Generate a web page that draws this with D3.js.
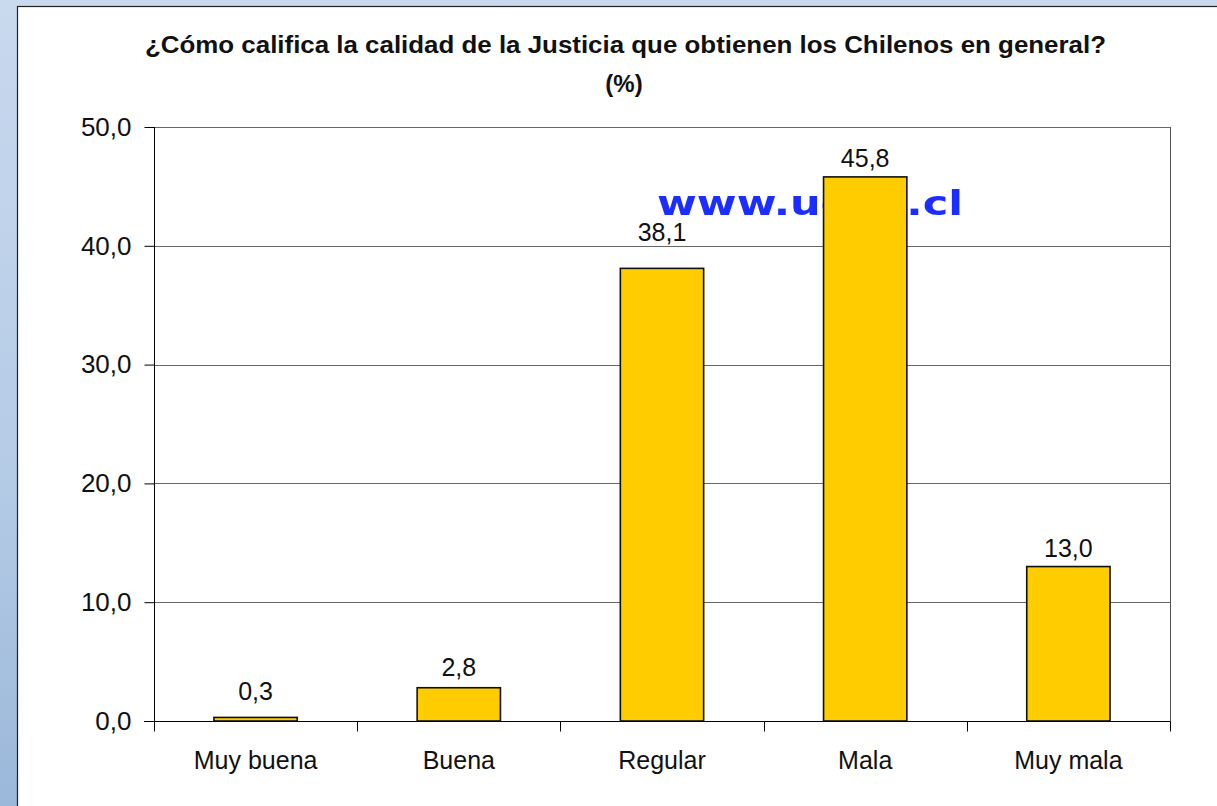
<!DOCTYPE html>
<html lang="es">
<head>
<meta charset="UTF-8">
<title>Calidad de la Justicia</title>
<script src="https://d3js.org/d3.v7.min.js"></script>
<style>
    body { margin: 0; overflow: hidden; }
    svg { display: block; font-family: "Liberation Sans", Arial, sans-serif; }
</style>
</head>
<body>
<div id="chart"></div>
<script>
    // datos
    var categorias = ["Muy buena", "Buena", "Regular", "Mala", "Muy mala"];
    var valores = [0.3, 2.8, 38.1, 45.8, 13.0];
    var ticksY = [0, 10, 20, 30, 40, 50];
    // separacion (px) de cada etiqueta sobre su barra, como en el original
    var separacionEtiqueta = [17, 12, 27, 10, 10];

    var W = 1217, H = 806;
    var plot = { left: 154, top: 127, right: 1170, bottom: 721 };
    var fmt = function(v) { return v.toFixed(1).replace(".", ","); };

    var svg = d3.select("#chart").append("svg")
        .attr("width", W)
        .attr("height", H);

    // fondo azul
    var defs = svg.append("defs");
    var grad = defs.append("linearGradient")
        .attr("id", "fondo")
        .attr("x1", 0).attr("y1", 0).attr("x2", 0).attr("y2", 1);
    grad.append("stop").attr("offset", "0%").attr("stop-color", "#c9d9ee");
    grad.append("stop").attr("offset", "60%").attr("stop-color", "#b4cbe6");
    grad.append("stop").attr("offset", "100%").attr("stop-color", "#9bb7d9");
    defs.append("filter").attr("id", "blur")
        .append("feGaussianBlur").attr("stdDeviation", 0.6);

    svg.append("rect")
        .attr("width", W).attr("height", H)
        .attr("fill", "url(#fondo)");

    svg.append("rect")
        .attr("x", 17.5).attr("y", 6.5)
        .attr("width", W + 10).attr("height", H + 10)
        .attr("fill", "#fff")
        .attr("stroke", "#222")
        .attr("stroke-width", 1.2);

    var x = d3.scaleBand()
        .domain(categorias)
        .range([plot.left, plot.right])
        .paddingInner(0.59)
        .paddingOuter(0.295);

    var y = d3.scaleLinear()
        .domain([0, 50])
        .range([plot.bottom, plot.top]);

    // titulo
    svg.append("text")
        .attr("x", 145).attr("y", 53)
        .attr("font-weight", "bold")
        .attr("font-size", 23)
        .attr("textLength", 961)
        .attr("lengthAdjust", "spacingAndGlyphs")
        .attr("fill", "#111")
        .text("¿Cómo califica la calidad de la Justicia que obtienen los Chilenos en general?");
    svg.append("text")
        .attr("x", 624).attr("y", 92)
        .attr("text-anchor", "middle")
        .attr("font-weight", "bold")
        .attr("font-size", 24)
        .attr("fill", "#111")
        .text("(%)");

    // grilla
    svg.append("g")
        .selectAll("line")
        .data(ticksY.slice(1))
        .enter()
        .append("line")
        .attr("x1", plot.left).attr("x2", plot.right)
        .attr("y1", function(d) { return Math.round(y(d)) + 0.5; })
        .attr("y2", function(d) { return Math.round(y(d)) + 0.5; })
        .attr("stroke", "#666")
        .attr("stroke-width", 1);

    svg.append("line")
        .attr("x1", plot.right + 0.5).attr("x2", plot.right + 0.5)
        .attr("y1", plot.top).attr("y2", plot.bottom + 10)
        .attr("stroke", "#555");

    // marca de agua
    svg.append("text")
        .attr("x", 657).attr("y", 215)
        .attr("font-family", "'DejaVu Sans', Verdana, sans-serif")
        .attr("font-weight", "bold")
        .attr("font-size", 33)
        .attr("textLength", 306)
        .attr("lengthAdjust", "spacingAndGlyphs")
        .attr("fill", "#1f2fff")
        .attr("filter", "url(#blur)")
        .text("www.ucen.cl");

    // barras
    svg.append("g")
        .selectAll("rect")
        .data(valores)
        .enter()
        .append("rect")
        .attr("x", function(d, i) { return x(categorias[i]); })
        .attr("y", function(d) { return y(d); })
        .attr("width", x.bandwidth())
        .attr("height", function(d) { return y(0) - y(d); })
        .attr("fill", "#ffcc00")
        .attr("stroke", "#111")
        .attr("stroke-width", 1.6);

    svg.append("g")
        .selectAll("text")
        .data(valores)
        .enter()
        .append("text")
        .attr("x", function(d, i) { return x(categorias[i]) + x.bandwidth() / 2; })
        .attr("y", function(d, i) { return y(d) - separacionEtiqueta[i]; })
        .attr("text-anchor", "middle")
        .attr("font-size", 25)
        .attr("fill", "#111")
        .text(fmt);

    // ejes
    var ejeY = d3.axisLeft(y)
        .tickValues(ticksY)
        .tickSize(10)
        .tickPadding(13)
        .tickFormat(fmt);
    var gy = svg.append("g")
        .attr("transform", "translate(" + (plot.left + 0.5) + ",0)")
        .call(ejeY);
    gy.select(".domain").attr("stroke", "#000").attr("d", "M0," + plot.top + "V" + plot.bottom);
    gy.selectAll(".tick line").attr("stroke", "#000");
    gy.selectAll("text")
        .attr("font-size", 26)
        .attr("font-family", "'Liberation Sans', Arial, sans-serif")
        .attr("fill", "#111");

    var ejeX = d3.axisBottom(x).tickSize(0).tickPadding(47);
    var gx = svg.append("g")
        .attr("transform", "translate(0," + (plot.bottom + 0.5) + ")")
        .call(ejeX);
    gx.select(".domain").attr("stroke", "#000").attr("d", "M" + (plot.left - 10) + ",0H" + plot.right);
    gx.selectAll("text")
        .attr("font-size", 25)
        .attr("font-family", "'Liberation Sans', Arial, sans-serif")
        .attr("fill", "#111")
        .attr("dy", "0");

    // marcas entre categorias
    var paso = (plot.right - plot.left) / categorias.length;
    gx.selectAll(".sep")
        .data(d3.range(categorias.length + 1))
        .enter()
        .append("line")
        .attr("x1", function(i) { return Math.round(plot.left + i * paso) + 0.5; })
        .attr("x2", function(i) { return Math.round(plot.left + i * paso) + 0.5; })
        .attr("y1", 0).attr("y2", 10)
        .attr("stroke", "#000");
</script>
</body>
</html>
